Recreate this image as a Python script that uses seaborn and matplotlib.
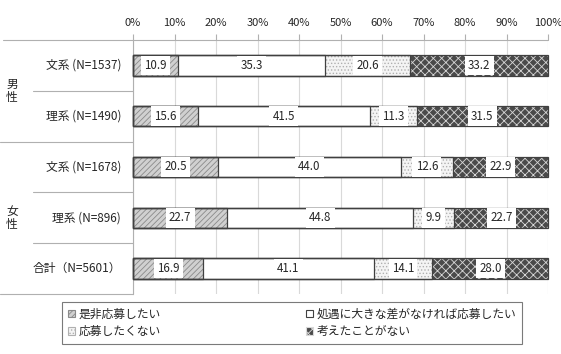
import matplotlib
matplotlib.use("Agg")
import matplotlib.pyplot as plt
import matplotlib.transforms as mtransforms
import seaborn as sns
import numpy as np
import pandas as pd
from matplotlib.patches import Patch

sns.set_theme(style="white")
plt.rcParams['font.family'] = ['Noto Sans CJK JP', 'DejaVu Sans']
plt.rcParams['hatch.linewidth'] = 0.6

# ---- data ----
categories = ["文系 (N=1537)", "理系 (N=1490)", "文系 (N=1678)", "理系 (N=896)", "合計（N=5601）"]
group_labels = ["男\n性", "女\n性"]
series_names = ["是非応募したい", "処遇に大きな差がなければ応募したい", "応募したくない", "考えたことがない"]
s_yes = [10.9, 15.6, 20.5, 22.7, 16.9]
s_if = [35.3, 41.5, 44.0, 44.8, 41.1]
s_no = [20.6, 11.3, 12.6, 9.9, 14.1]
s_never = [33.2, 31.5, 22.9, 22.7, 28.0]
xticks = [0, 10, 20, 30, 40, 50, 60, 70, 80, 90, 100]
xtick_labels = ["0%", "10%", "20%", "30%", "40%", "50%", "60%", "70%", "80%", "90%", "100%"]

# styles: (face, hatch, hatch colour)
styles = [
    ("#d0d0d0", "//////", "#8a8a8a"),
    ("#ffffff", None, "#ffffff"),
    ("#f4f4f4", ".....", "#b0b0b0"),
    ("#4a4a4a", "xxxx", "#d8d8d8"),
]
edge_col = "#404040"

W, H = 561, 354
fig = plt.figure(figsize=(W / 100, H / 100), dpi=100)
fig.patch.set_facecolor("white")
ax = fig.add_axes([133 / W, (H - 294) / H, (548 - 133) / W, (294 - 40) / H])

vals = np.array([s_yes, s_if, s_no, s_never])
cum = vals.cumsum(axis=0)

# filled (hatched) layers, drawn from the total down
for k in reversed(range(4)):
    n0 = len(ax.patches)
    df = pd.DataFrame({"cat": categories, "val": cum[k]})
    sns.barplot(data=df, x="val", y="cat", orient="h", order=categories,
                width=0.4, color="white", saturation=1, ax=ax, zorder=2)
    face, hatch, hc = styles[k]
    for p in ax.patches[n0:]:
        p.set_facecolor(face)
        p.set_hatch(hatch)
        p.set_edgecolor(hc)
        p.set_linewidth(0)

# outlines
for k in range(4):
    n0 = len(ax.patches)
    df = pd.DataFrame({"cat": categories, "val": cum[k]})
    sns.barplot(data=df, x="val", y="cat", orient="h", order=categories,
                width=0.4, color="white", saturation=1, ax=ax, zorder=3)
    for p in ax.patches[n0:]:
        p.set_facecolor("none")
        p.set_hatch(None)
        p.set_edgecolor(edge_col)
        p.set_linewidth(0.9)
        p.set_clip_on(False)

# data labels
for k in range(4):
    for i in range(len(categories)):
        v = vals[k][i]
        x = cum[k][i] - v / 2
        ax.text(x, i, f"{v:.1f}", ha="center", va="center", fontsize=8.3,
                color="#262626", zorder=5,
                bbox=dict(boxstyle="square,pad=0.28", fc="white", ec="none"))

ax.set_xlim(0, 100)
ax.set_ylim(4.5, -0.5)
ax.set_xlabel("")
ax.set_ylabel("")
ax.xaxis.tick_top()
ax.set_xticks(xticks)
ax.set_xticklabels(xtick_labels)
ax.tick_params(axis="x", top=True, length=4, color="#b0b0b0", width=0.8,
               pad=5, labelsize=8, labelcolor="#262626")
ax.tick_params(axis="y", left=False, labelleft=False)
ax.grid(axis="x", color="#d9d9d9", lw=0.8, zorder=0)
ax.set_axisbelow(True)
for s in ["right", "bottom", "top"]:
    ax.spines[s].set_visible(False)
ax.spines["left"].set_color("#b0b0b0")
ax.spines["left"].set_linewidth(0.8)

# top horizontal line spanning label area + plot
tr_top = mtransforms.blended_transform_factory(fig.transFigure, ax.transAxes)
ax.plot([3 / W, 548 / W], [1, 1], transform=tr_top, color="#b0b0b0", lw=0.8, clip_on=False)

# category labels and group labels
tr = mtransforms.blended_transform_factory(fig.transFigure, ax.transData)
for i, c in enumerate(categories):
    ax.text(121 / W, i, c, transform=tr, ha="right", va="center", fontsize=8.5, color="#262626")
ax.text(12 / W, 0.5, group_labels[0], transform=tr, ha="center", va="center",
        fontsize=8.5, linespacing=1.0, color="#262626")
ax.text(12 / W, 3.0, group_labels[1], transform=tr, ha="center", va="center",
        fontsize=8.5, linespacing=1.0, color="#262626")

# separator lines in label area
for y, x0 in [(0.5, 33), (1.5, 0), (2.5, 33), (3.5, 33), (4.5, 0)]:
    ax.plot([x0 / W, 133 / W], [y, y], transform=tr, color="#b0b0b0", lw=0.8, clip_on=False)

# legend
handles = []
for k in range(4):
    face, hatch, hc = styles[k]
    handles.append(Patch(facecolor=face, hatch=hatch, edgecolor=edge_col if hatch is None else hc,
                         linewidth=0.8))
order = [0, 2, 1, 3]
leg = fig.legend([handles[i] for i in order], [series_names[i] for i in order],
                 loc="upper left", ncol=2, mode="expand",
                 bbox_to_anchor=(62 / W, 0, 460 / W, (H - 302) / H),
                 borderaxespad=0, fontsize=8.5, frameon=True, fancybox=False,
                 handlelength=0.6, handleheight=0.6, handletextpad=0.3,
                 labelspacing=0.35, borderpad=0.5)
leg.get_frame().set_edgecolor("#595959")
leg.get_frame().set_linewidth(0.8)
for t in leg.get_texts():
    t.set_color("#262626")

fig.savefig("out.png", dpi=100, facecolor="white")
